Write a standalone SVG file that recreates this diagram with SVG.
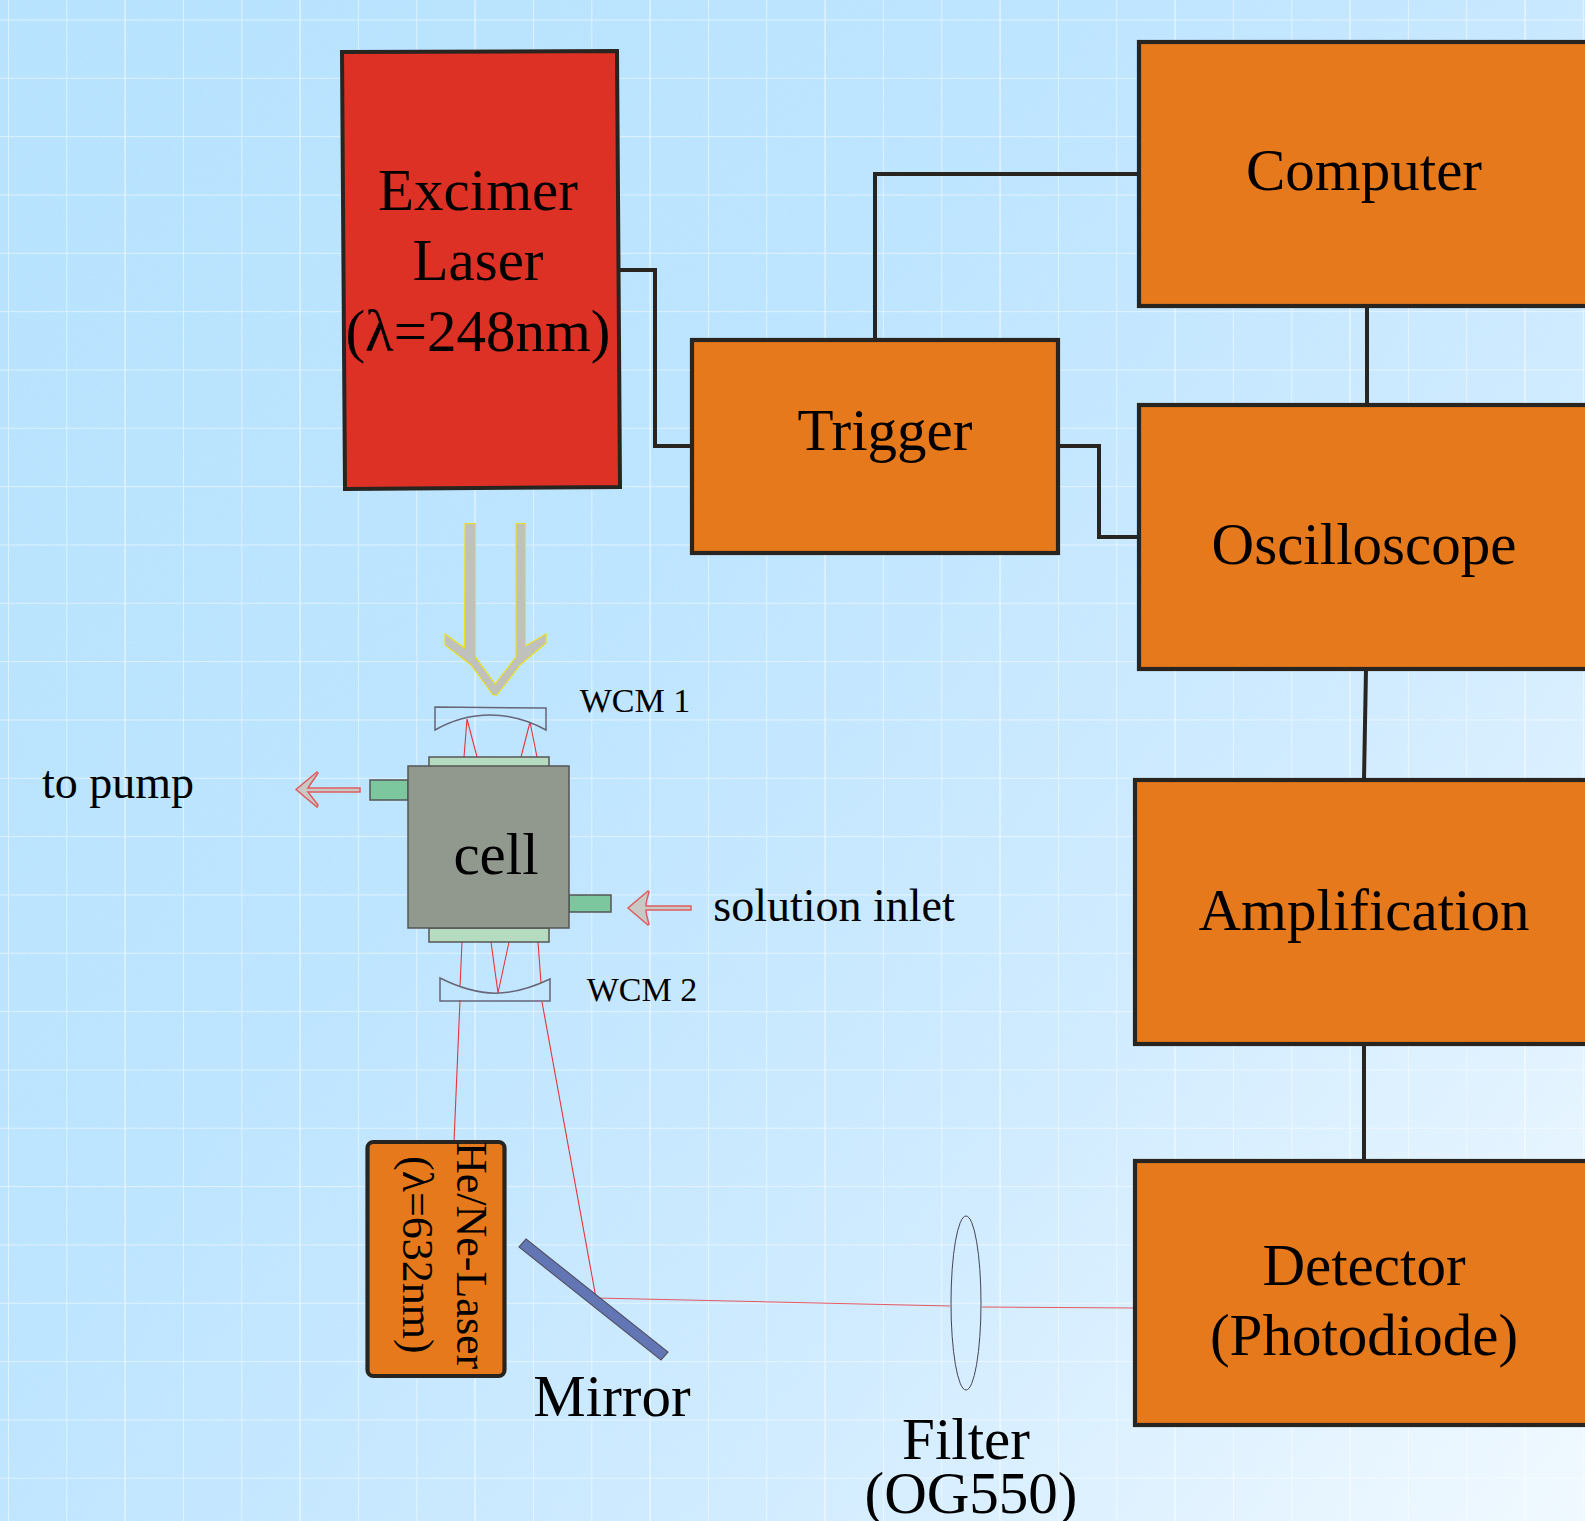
<svg xmlns="http://www.w3.org/2000/svg" width="1585" height="1521" viewBox="0 0 1585 1521">
<defs>
<linearGradient id="bg" x1="0" y1="0.2" x2="1" y2="0.95"><stop offset="0" stop-color="#b6e2fe"/><stop offset="0.35" stop-color="#bce4ff"/><stop offset="0.65" stop-color="#cdeaff"/><stop offset="1" stop-color="#eef8ff"/></linearGradient>
<pattern id="grid" width="58.33" height="58.33" patternUnits="userSpaceOnUse" x="8" y="19.5">
<path d="M0.5 0V58.33M0 0.5H58.33" fill="none" stroke="#fff" stroke-opacity="0.5" stroke-width="1"/>
</pattern>
<pattern id="grid3" width="175" height="175" patternUnits="userSpaceOnUse" x="124.500" y="19.5">
<path d="M0.5 0V175" fill="none" stroke="#fff" stroke-opacity="0.4" stroke-width="1"/>
</pattern>
<filter id="noise" x="0" y="0" width="100%" height="100%"><feTurbulence type="fractalNoise" baseFrequency="0.9" numOctaves="2" seed="3"/><feColorMatrix values="0 0 0 0 1 0 0 0 0 1 0 0 0 0 1 0.9 0 0 0 -0.3"/></filter>
</defs>
<style>
text{font-family:"Liberation Serif","Times New Roman",serif;fill:#000;text-anchor:middle}
.box{fill:#e6791b;stroke:#282420;stroke-width:4.200}
.wire{fill:none;stroke:#282420;stroke-width:4}
.ray{fill:none;stroke:#e8343c;stroke-width:1.100}
.big{font-size:59px}
.cmp{fill:#91998e;stroke:#555;stroke-width:1.5}
.win{fill:#b6dcc0;stroke:#555;stroke-width:1.5}
.port{fill:#7cc79e;stroke:#555;stroke-width:1.5}
.wcm{fill:none;stroke:#667;stroke-width:1.5}
.small{font-size:34px}
.arrow{fill:#c8c8c4;stroke:#e05c60;stroke-width:1.5}
</style>
<rect width="1585" height="1521" fill="url(#bg)"/>
<rect width="1585" height="1521" filter="url(#noise)" opacity="0.22"/>
<rect width="1585" height="1521" fill="url(#grid)"/>
<rect width="1585" height="1521" fill="url(#grid3)"/>
<g id="connectors">
<path class="wire" d="M619 270H655V446H692"/>
<path class="wire" d="M875 340V174H1139"/>
<path class="wire" d="M1058 446H1099V537H1139"/>
<path class="wire" d="M1367 306V405"/>
<path class="wire" d="M1366 669L1364 780"/>
<path class="wire" d="M1364 1044V1161"/>
<path class="ray" d="M464 757L467 719L477 757M521 757L530 722L537 757"/>
<path class="ray" d="M462 942L460 987M460 1000L454 1142"/>
<path class="ray" d="M491 942L498 993L509 942"/>
<path class="ray" d="M538 942L541 983M542 1002L596 1298"/>
<path class="ray" stroke-opacity="0.8" d="M596 1298L950 1306M982 1307L1135 1308"/>
</g>
<g id="excimer"><path d="M342 52L617 51L620 487L345 489Z" fill="#dd3126" stroke="#282420" stroke-width="4"/>
<text class="big" x="478" y="210">Excimer</text><text class="big" x="478" y="280">Laser</text><text class="big" x="478" y="351">(λ=248nm)</text></g>
<g id="trigger"><rect class="box" x="692" y="340" width="366" height="213"/><text class="big" x="885" y="450">Trigger</text></g>
<g id="computer"><rect class="box" x="1139" y="42" width="460" height="264"/><text class="big" x="1364" y="190">Computer</text></g>
<g id="oscilloscope"><rect class="box" x="1139" y="405" width="460" height="264"/><text class="big" x="1364" y="564">Oscilloscope</text></g>
<g id="amplification"><rect class="box" x="1135" y="780" width="460" height="264"/><text class="big" x="1364" y="930">Amplification</text></g>
<g id="detector"><rect class="box" x="1135" y="1161" width="460" height="264"/><text class="big" x="1364" y="1285">Detector</text><text class="big" x="1364" y="1355">(Photodiode)</text></g>
<g id="beam"><path d="M465 523.500H475.500V657L495 684L516 657V523.500H525.500V646L546 634V643L520 665L497 695H493L471 665L445 645V634L464.500 648Z" fill="#c0c0bc" stroke="#e8e020" stroke-width="1.200"/></g>
<g id="wcm1"><path class="wcm" d="M435 707L546 708V730C510 710 470 710 435 730Z"/><text class="small" x="635" y="712">WCM 1</text></g>
<g id="wcm2"><path class="wcm" d="M440 978C480 998 510 998 550 979V1001H440Z"/><text class="small" x="642" y="1001">WCM 2</text></g>
<g id="cell">
<rect class="win" x="429" y="757" width="120" height="10"/>
<rect class="win" x="429" y="928" width="120" height="14"/>
<rect class="port" x="370" y="780" width="38" height="20"/>
<rect class="port" x="569" y="895" width="42" height="17"/>
<rect class="cmp" x="408" y="766" width="161" height="162"/>
<text x="496" y="874" font-size="59">cell</text></g>
<g id="pump-arrow"><path class="arrow" d="M360 788V792H308C311 796 315 801 318 805L317 807L296 789.500L317 772L318 773C315 778 311 783 308 788Z"/><text x="118" y="798" font-size="46">to pump</text></g>
<g id="inlet-arrow"><path class="arrow" d="M691 906V910H646C646 915 648 920 649 924L648 925L628 908L648 891L649 892C648 896 646 901 646 906Z"/><text x="834" y="921" font-size="46">solution inlet</text></g>
<g id="he-ne"><rect class="box" x="367.500" y="1142" width="137" height="234" rx="6"/>
<text font-size="44" transform="translate(457 1142) rotate(90)" style="text-anchor:start" x="0" y="0">He/Ne-Laser</text>
<text font-size="44" transform="translate(403 1156) rotate(90)" style="text-anchor:start" x="0" y="0">(λ=632nm)</text></g>
<g id="mirror"><path d="M526 1239L668 1352L661 1360L519 1247Z" fill="#6275b4" stroke="#556" stroke-width="1.200"/><text class="big" x="612" y="1416">Mirror</text></g>
<g id="filter"><ellipse cx="966" cy="1303" rx="15" ry="87" fill="none" stroke="#445" stroke-width="1"/><text class="big" x="966" y="1459">Filter</text><text class="big" x="971" y="1513">(OG550)</text></g>
</svg>
